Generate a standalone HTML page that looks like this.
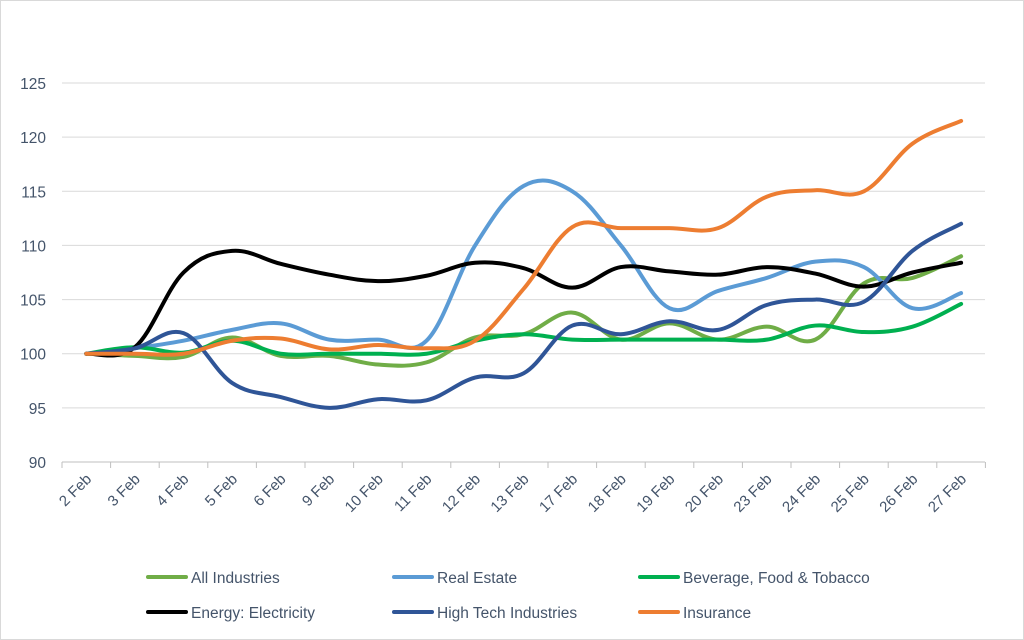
<!DOCTYPE html><html><head><meta charset="utf-8"><style>body{margin:0;background:#fff}svg{display:block;font-family:"Liberation Sans",sans-serif}</style></head><body>
<svg id="s" width="1024" height="640" xmlns="http://www.w3.org/2000/svg">
<rect x="0.5" y="0.5" width="1023" height="639" fill="#fff" stroke="#d9d9d9"/>
<g id="g"></g>
</svg>
<script>
const NS="http://www.w3.org/2000/svg",g=document.getElementById('g');
function el(t,a,txt){const e=document.createElementNS(NS,t);for(const k in a)e.setAttribute(k,a[k]);if(txt!=null)e.textContent=txt;g.appendChild(e);return e;}
const Y=v=>462-(v-90)*379/35, X=i=>86.3+48.6*i;
const TC='#44546A';
for(let v=90;v<=125;v+=5){const y=Y(v);el('line',{x1:62,x2:985,y1:y,y2:y,stroke:v==90?'#bfbfbf':'#d9d9d9','stroke-width':1});el('text',{x:46,y:y+6,'text-anchor':'end','font-size':15.5,fill:TC},v);}
const cats=["2 Feb","3 Feb","4 Feb","5 Feb","6 Feb","9 Feb","10 Feb","11 Feb","12 Feb","13 Feb","17 Feb","18 Feb","19 Feb","20 Feb","23 Feb","24 Feb","25 Feb","26 Feb","27 Feb"];
for(let i=0;i<=19;i++){const x=62+48.6*i;el('line',{x1:x,x2:x,y1:462,y2:468,stroke:'#bfbfbf'});}
cats.forEach((c,i)=>{const x=X(i)+6,y=480;el('text',{x:x,y:y,'text-anchor':'end','font-size':15,fill:TC,transform:`rotate(-45 ${x} ${y})`},c);});
const S=[
["#70AD47",[100,99.8,99.7,101.5,99.8,99.8,99,99.2,101.5,101.8,103.8,101.3,102.8,101.3,102.5,101.3,106.5,107,109]],
["#5B9BD5",[100,100.5,101.2,102.2,102.8,101.3,101.3,101.2,110,115.5,115,110,104.2,105.8,107,108.5,108,104.2,105.6]],
["#00B050",[100,100.6,100.1,101.2,100,100,100,100,101.2,101.8,101.3,101.3,101.3,101.3,101.3,102.6,102,102.5,104.6]],
["#000000",[100,100.6,107.5,109.5,108.3,107.3,106.7,107.2,108.4,107.9,106.1,108,107.6,107.3,108,107.4,106.2,107.5,108.4]],
["#2F5597",[100,100.5,101.9,97.3,96,95,95.8,95.7,97.8,98.2,102.6,101.8,103,102.2,104.5,105,104.8,109.5,112]],
["#ED7D31",[100,100,100,101.2,101.4,100.4,100.8,100.5,101.2,106,111.7,111.6,111.6,111.6,114.5,115.1,115,119.4,121.5]]];
S.forEach(([c,d])=>{const p=d.map((v,i)=>[X(i),Y(v)]);let s=`M${p[0][0]},${p[0][1]}`;const t=0.18;
for(let i=0;i<p.length-1;i++){const a=p[i-1]||p[i],b=p[i],cc=p[i+1],e=p[i+2]||cc;
s+=` C${b[0]+(cc[0]-a[0])*t},${b[1]+(cc[1]-a[1])*t} ${cc[0]-(e[0]-b[0])*t},${cc[1]-(e[1]-b[1])*t} ${cc[0]},${cc[1]}`;}
el('path',{d:s,fill:'none',stroke:c,'stroke-width':4,'stroke-linecap':'round','stroke-linejoin':'round'});});
const L=[["All Industries","#70AD47",146,577],["Real Estate","#5B9BD5",392,577],["Beverage, Food & Tobacco","#00B050",638,577],["Energy: Electricity","#000000",146,612],["High Tech Industries","#2F5597",392,612],["Insurance","#ED7D31",638,612]];
L.forEach(([n,c,x,y])=>{el('line',{x1:x+2,x2:x+40,y1:y,y2:y,stroke:c,'stroke-width':4,'stroke-linecap':'round'});el('text',{x:x+45,y:y+6,'font-size':15.5,fill:TC},n);});
</script></body></html>
